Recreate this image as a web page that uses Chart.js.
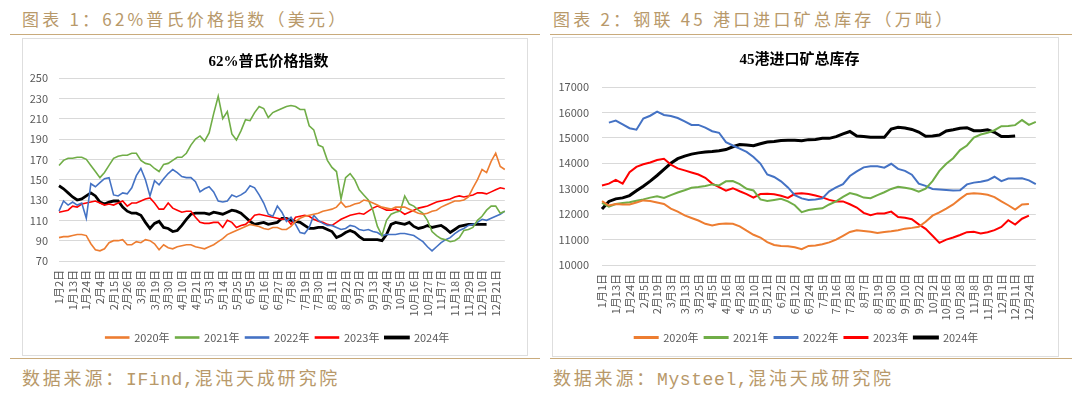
<!DOCTYPE html>
<html>
<head>
<meta charset="utf-8">
<script src="https://cdn.jsdelivr.net/npm/chart.js@4.4.1/dist/chart.umd.min.js"></script>
<style>
  body { margin: 0; width: 1080px; height: 393px; background: #fff; position: relative; overflow: hidden; font-family: "Noto Sans CJK SC", sans-serif; }
  .hdr { position: absolute; color: #b8996a; font-size: 17px; letter-spacing: 3.2px; white-space: nowrap; }
  .src { position: absolute; color: #b8996a; font-size: 18px; letter-spacing: 2.8px; white-space: nowrap; }
  .src .mono { font-family: "Liberation Mono", monospace; letter-spacing: 0.6px; }
  .rule { position: absolute; height: 0; border-top: 1.5px solid #c9ab7c; }
  .panel { position: absolute; border: 1px solid #dedede; background: #fff; }
  .panel canvas { position: absolute; left: 0; top: 0; }
</style>
</head>
<body>
<div class="hdr" style="left:22px; top:6px;">图表 1：62%普氏价格指数（美元）</div>
<div class="rule" style="left:10px; top:34px; width:530px;"></div>
<div class="panel" style="left:22px; top:38px; width:504px; height:316px;"><canvas id="priceChart" width="504" height="316"></canvas></div>
<div class="rule" style="left:10px; top:358px; width:530px;"></div>
<div class="src" style="left:22px; top:364px;">数据来源：<span class="mono">IFind,</span>混沌天成研究院</div>

<div class="hdr" style="left:553px; top:6px;">图表 2：钢联 45 港口进口矿总库存（万吨）</div>
<div class="rule" style="left:550px; top:34px; width:522px;"></div>
<div class="panel" style="left:552px; top:37px; width:505px; height:318px;"><canvas id="stockChart" width="505" height="318"></canvas></div>
<div class="rule" style="left:550px; top:358px; width:522px;"></div>
<div class="src" style="left:553px; top:364px;">数据来源：<span class="mono">Mysteel,</span>混沌天成研究院</div>

<script>
// tick labels (one every 3 points on the left chart, every 2 points on the right one)
const leftTicks = ['1月2日','1月13日','1月24日','2月4日','2月15日','2月26日','3月8日','3月19日','3月30日','4月10日','4月21日','5月3日','5月14日','5月25日','6月5日','6月16日','6月27日','7月8日','7月19日','7月30日','8月11日','8月22日','9月2日','9月13日','9月24日','10月5日','10月16日','10月27日','11月7日','11月18日','11月29日','12月10日','12月21日'];
const rightTicks = ['1月1日','1月13日','1月24日','2月5日','2月19日','3月3日','3月13日','3月25日','4月5日','4月16日','4月28日','5月10日','5月21日','6月2日','6月12日','6月24日','7月5日','7月16日','7月28日','8月7日','8月19日','8月30日','9月10日','9月22日','10月2日','10月16日','10月28日','11月8日','11月19日','12月1日','12月11日','12月24日'];
const years = ['2020年','2021年','2022年','2023年','2024年'];
const colors = ['#ED7D31','#70AD47','#4472C4','#FF0000','#000000'];

// 62% Platts index, USD
const price2020 = [93,94,94,95,96,96,95,87,81,80, 82,88,90,90,91,86,86,89,88,91, 90,87,81,86,83,82,84,85,86,86, 84,83,82,84,86,89,92,96,98,100, 102,104,106,105,104,102,101,103,103,101, 101,104,109,112,114,115,116,117,119,120, 121,123,128,123,124,126,127,130,129,127, 125,123,122,121,123,123,123,121,119,117, 116,117,119,120,123,125,127,129,129,130, 133,142,150,160,157,168,176,163,160];
const price2021 = [164,169,171,171,172,172,170,164,158,152, 157,164,171,173,174,174,176,176,169,166, 165,161,158,165,166,169,172,172,176,184, 190,193,188,196,215,232,210,217,195,189, 198,209,208,216,222,220,211,216,218,220, 222,223,222,219,219,203,199,184,182,169, 162,158,131,152,156,150,140,135,130,120, 104,95,110,116,118,119,134,126,124,120, 117,110,99,95,92,91,89,90,93,100, 101,103,110,114,120,124,124,117,119];
const price2022 = [119,129,125,128,125,127,112,146,143,147, 151,152,135,134,137,136,142,154,161,150, 134,149,145,151,156,160,157,153,152,152, 148,138,141,143,138,129,128,129,135,133, 135,138,144,142,135,127,116,114,124,118, 109,113,106,98,97,103,115,110,107,105, 105,103,101,102,105,104,101,100,101,99, 98,95,96,96,96,97,97,96,95,92, 89,84,80,84,88,91,93,97,100,102, 105,106,108,111,110,112,114,116,119];
const price2023 = [118,119,120,124,123,126,127,128,129,127, 125,126,125,127,129,124,127,127,129,131, 132,127,121,121,127,122,120,118,119,119, 113,108,107,107,108,108,103,110,108,103, 105,106,110,115,116,115,114,113,112,111, 112,106,113,114,115,114,111,109,108,106, 105,108,111,113,115,116,117,116,119,122, 124,122,120,120,121,119,116,118,120,122, 123,124,126,128,129,130,131,133,134,133, 134,135,137,137,136,138,140,142,141];
const price2024 = [144,141,137,133,130,131,134,137,134,128, 126,128,129,129,123,119,117,117,115,108, 102,107,109,103,102,99,100,105,111,116, 117,117,117,116,118,117,116,118,120,119, 117,113,109,106,107,108,106,107,108,112, 112,110,109,108,105,102,102,103,103,101, 99,93,95,98,100,98,94,91,91,91, 91,90,96,106,108,107,106,108,104,102, 103,105,103,104,105,102,98,101,104,105, 106,106,106,106,106,null,null,null,null];

// 45-port imported ore stocks, 10k t
const stock2020 = [12510,12340,12400,12380,12380,12460,12540,12520,12460,12400, 12220,12100,11950,11850,11750,11620,11550,11610,11630,11620, 11520,11350,11190,11080,10900,10790,10750,10740,10700,10620, 10750,10770,10820,10890,11000,11150,11300,11370,11340,11310, 11260,11300,11330,11370,11430,11460,11500,11700,11940,12070, 12220,12380,12600,12790,12820,12800,12760,12670,12500,12350, 12180,12380,12400,null];
const stock2021 = [12440,12290,12400,12440,12470,12530,12580,12650,12700,12640, 12750,12850,12940,13040,13070,13110,13170,13130,13290,13300, 13180,13000,12930,12580,12520,12560,12600,12500,12350,12080, 12160,12200,12230,12380,12500,12680,12830,12760,12650,12630, 12750,12860,12990,13080,13040,12990,12880,13000,13300,13700, 13980,14200,14520,14700,15010,15130,15200,15300,15460,15470, 15500,15700,15510,15630];
const stock2022 = [null,15600,15680,15530,15380,15320,15760,15870,16030,15900, 15860,15780,15650,15510,15510,15400,15260,15200,14830,14700, 14580,14450,14250,13990,13560,13460,13290,13050,12750,12620, 12560,12580,12620,12900,13050,13180,13500,13680,13840,13880, 13880,13830,13980,13780,13700,13550,13200,13110,12990,12970, 12950,12930,12940,13170,13240,13270,13330,13470,13300,13400, 13400,13410,13330,13180];
const stock2023 = [13130,13200,13350,13200,13650,13860,13960,14030,14130,14180, 13950,13800,13720,13640,13560,13430,13200,13060,12920,13020, 12900,12790,12650,12790,12800,12780,12720,12640,12800,12820, 12790,12730,12660,12560,12500,12500,12390,12260,12050,11960, 12030,12030,12100,11890,11860,11800,11600,11420,11150,10870, 11000,11080,11180,11290,11310,11240,11290,11370,11500,11760, 11590,11820,11940,null];
const stock2024 = [12200,12500,12600,12640,12730,12920,13100,13300,13520,13760, 14000,14180,14280,14360,14410,14440,14460,14490,14540,14650, 14740,14720,14690,14770,14840,14860,14900,14910,14910,14890, 14930,14940,14980,14980,15050,15160,15250,15070,15050,15020, 15020,15020,15350,15420,15390,15330,15230,15060,15070,15110, 15270,15320,15380,15400,15280,15280,15320,15220,15050,15050, 15070,null,null,null];

const FONT = '"Noto Sans CJK SC", sans-serif';
const GREY = '#595959';

// category labels: tick text every n-th point, blank in between
function buildLabels(ticks, step, count) {
  const out = [];
  for (let i = 0; i < count; i++) {
    out.push(i % step === 0 && ticks[i / step] ? ticks[i / step] : '');
  }
  return out;
}

function makeSets(series, widths) {
  return series.map((data, i) => ({
    label: years[i],
    data: data,
    borderColor: colors[i],
    backgroundColor: colors[i],
    borderWidth: widths[i],
    pointRadius: 0,
    tension: 0,
    spanGaps: false
  }));
}

// nudge the legend sideways (Excel centres it on the plot, not the whole box)
const legendShift = {
  id: 'legendShift',
  afterLayout(chart, args, opts) {
    if (chart.legend && opts.dx) {
      chart.legend.left += opts.dx;
      chart.legend.right += opts.dx;
    }
  }
};

function makeChart(id, cfg) {
  const ctx = document.getElementById(id).getContext('2d');
  return new Chart(ctx, {
    type: 'line',
    data: { labels: cfg.labels, datasets: cfg.datasets },
    plugins: [legendShift],
    options: {
      responsive: false,
      animation: false,
      layout: { padding: cfg.padding },
      scales: {
        x: {
          offset: false,
          grid: { display: false, drawTicks: false },
          border: { display: false },
          ticks: {
            autoSkip: false, minRotation: 90, maxRotation: 90,
            padding: cfg.xPad, color: GREY, font: { family: FONT, size: 11 }
          },
          afterFit: (s) => { s.height = cfg.xHeight; }
        },
        y: {
          min: cfg.yMin, max: cfg.yMax,
          grid: { color: '#d9d9d9', lineWidth: 1, drawTicks: false },
          border: { display: false },
          ticks: {
            stepSize: cfg.yStep, padding: cfg.yPad, color: GREY, font: { family: FONT, size: 11 },
            callback: (v) => String(v)
          },
          afterFit: (s) => { s.width = cfg.yWidth; }
        }
      },
      plugins: {
        title: {
          display: true,
          text: cfg.title,
          color: '#000',
          font: { family: '"Liberation Serif", "Noto Sans CJK SC", serif', size: 15, weight: 'bold' },
          padding: cfg.titlePad
        },
        legend: {
          position: 'bottom',
          labels: { boxWidth: 23, boxHeight: 1, padding: 6, color: GREY, font: { family: FONT, size: 11 } }
        },
        legendShift: { dx: cfg.legendDx },
        tooltip: { enabled: false }
      }
    }
  });
}

makeChart('priceChart', {
  labels: buildLabels(leftTicks, 3, price2020.length),
  datasets: makeSets([price2020, price2021, price2022, price2023, price2024], [1.6, 1.6, 1.6, 1.6, 2.8]),
  title: '62%普氏价格指数',
  titlePad: { top: 14, bottom: 7 },
  padding: { left: 0, right: 13, top: 0, bottom: 2 },
  legendDx: 9,
  xHeight: 65, xPad: 9,
  yWidth: 36, yPad: 11,
  yMin: 70, yMax: 250, yStep: 20
});

makeChart('stockChart', {
  labels: buildLabels(rightTicks, 2, stock2021.length),
  datasets: makeSets([stock2020, stock2021, stock2022, stock2023, stock2024], [2, 2, 2, 2, 3]),
  title: '45港进口矿总库存',
  titlePad: { top: 13, bottom: 18 },
  padding: { left: 0, right: 12, top: 0, bottom: 3 },
  legendDx: 7,
  xHeight: 61, xPad: 9,
  yWidth: 49, yPad: 13,
  yMin: 10000, yMax: 17000, yStep: 1000
});
</script>
</body>
</html>
